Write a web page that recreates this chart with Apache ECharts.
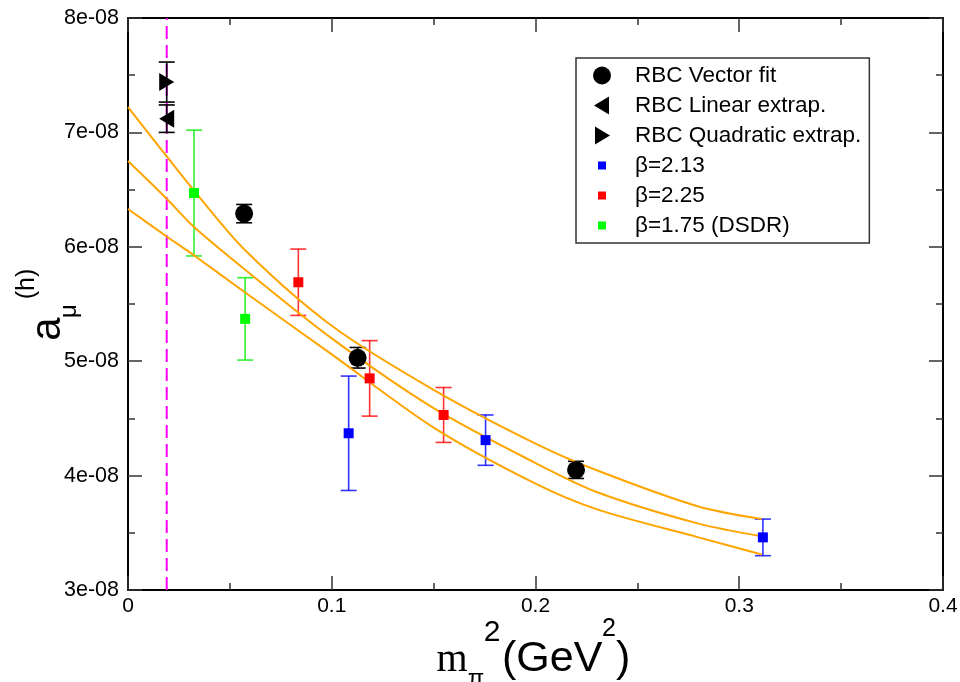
<!DOCTYPE html>
<html><head><meta charset="utf-8">
<script src="https://cdn.jsdelivr.net/npm/echarts@6/dist/echarts.min.js"></script>
<style>html,body{margin:0;padding:0;background:#fff}#c{width:960px;height:682px}</style>
</head><body><div id="c"></div>
<script>
// ---- data ----
const xTickLabels = ['0', '0.1', '0.2', '0.3', '0.4'];
const yTickLabels = ['3e-08', '4e-08', '5e-08', '6e-08', '7e-08', '8e-08'];
const xMin = 0, xMax = 0.4, xStep = 0.1;
const yMin = 3e-8, yMax = 8e-8, yStep = 1e-8;

const physMpi2 = 0.019;

const rbcVectorX = [0.057, 0.1127, 0.2199];
const rbcVectorY = [6.29e-8, 5.03e-8, 4.05e-8];
const rbcVectorErr = [0.08e-8, 0.09e-8, 0.075e-8];

const rbcLinearX = [0.019];
const rbcLinearY = [7.12e-8];
const rbcLinearErr = [0.12e-8];

const rbcQuadX = [0.019];
const rbcQuadY = [7.44e-8];
const rbcQuadErr = [0.175e-8];

const beta213X = [0.1083, 0.1755, 0.3116];
const beta213Y = [4.37e-8, 4.31e-8, 3.46e-8];
const beta213Err = [0.50e-8, 0.22e-8, 0.16e-8];

const beta225X = [0.0836, 0.1186, 0.1549];
const beta225Y = [5.69e-8, 4.85e-8, 4.53e-8];
const beta225Err = [0.29e-8, 0.33e-8, 0.24e-8];

const beta175X = [0.0324, 0.0575];
const beta175Y = [6.47e-8, 5.37e-8];
const beta175Err = [0.55e-8, 0.36e-8];

const fitX = [0, 0.019, 0.032, 0.0575, 0.1, 0.15, 0.2, 0.231, 0.28, 0.311];
const fitUpper = [7.22e-8, 6.79e-8, 6.50e-8, 5.97e-8, 5.31e-8, 4.75e-8, 4.28e-8, 4.04e-8, 3.73e-8, 3.62e-8];
const fitMid   = [6.75e-8, 6.42e-8, 6.18e-8, 5.80e-8, 5.20e-8, 4.59e-8, 4.11e-8, 3.85e-8, 3.58e-8, 3.47e-8];
const fitLower = [6.33e-8, 6.09e-8, 5.93e-8, 5.60e-8, 5.06e-8, 4.42e-8, 3.93e-8, 3.70e-8, 3.46e-8, 3.31e-8];

// ---- helpers ----
const FONT = "'Liberation Sans', Arial, Helvetica, sans-serif";
const pts = (xs, ys) => xs.map((x, i) => [x, ys[i]]);

function errSeries(name, xs, ys, es, color, opacity) {
  return {
    type: 'custom', name: name, silent: true, z: 2,
    data: xs.map((x, i) => [x, ys[i], es[i]]),
    encode: { x: 0, y: 1 },
    renderItem: function (params, api) {
      const x = api.value(0), y = api.value(1), e = api.value(2);
      const t = api.coord([x, y + e]), b = api.coord([x, y - e]);
      const hw = 8;
      const st = { stroke: color, lineWidth: 1.6, opacity: opacity };
      return { type: 'group', children: [
        { type: 'line', shape: { x1: t[0], y1: t[1], x2: b[0], y2: b[1] }, style: st },
        { type: 'line', shape: { x1: t[0] - hw, y1: t[1], x2: t[0] + hw, y2: t[1] }, style: st },
        { type: 'line', shape: { x1: b[0] - hw, y1: b[1], x2: b[0] + hw, y2: b[1] }, style: st }
      ] };
    }
  };
}
function fitLine(name, ys) {
  return { type: 'line', name: name, data: pts(fitX, ys), showSymbol: false, smooth: 0.3,
    silent: true, z: 3, lineStyle: { color: '#ffa500', width: 2 }, itemStyle: { color: '#ffa500' } };
}

const axisCommon = {
  type: 'value',
  axisLine: { show: true, onZero: false, lineStyle: { color: '#000', width: 2 } },
  axisTick: { show: true, inside: true, length: 14, lineStyle: { color: '#333', width: 1.5 } },
  minorTick: { show: true, splitNumber: 2, length: 7, lineStyle: { color: '#333', width: 1.5 } },
  splitLine: { show: false },
  minorSplitLine: { show: false }
};

const SQ = 'path://M0,0 M18,18 M5,5 L13,5 L13,13 L5,13 Z';

const chart = echarts.init(document.getElementById('c'), null, { renderer: 'canvas' });
chart.setOption({
  animation: false,
  backgroundColor: '#fff',
  grid: { left: 128, right: 17, top: 18, bottom: 92, outerBoundsMode: 'none' },
  xAxis: [
    Object.assign({}, axisCommon, {
      position: 'bottom', min: xMin, max: xMax, interval: xStep,
      axisLabel: { show: true, margin: 6, color: '#000', fontSize: 21, fontFamily: FONT,
        formatter: v => xTickLabels[Math.round((v - xMin) / xStep)] }
    }),
    Object.assign({}, axisCommon, {
      position: 'top', min: xMin, max: xMax, interval: xStep, axisLabel: { show: false }
    })
  ],
  yAxis: [
    Object.assign({}, axisCommon, {
      position: 'left', min: yMin, max: yMax, interval: yStep,
      axisLabel: { show: true, margin: 9, color: '#000', fontSize: 21.5, fontFamily: FONT,
        formatter: v => yTickLabels[Math.round((v - yMin) / yStep)] }
    }),
    Object.assign({}, axisCommon, {
      position: 'right', min: yMin, max: yMax, interval: yStep, axisLabel: { show: false }
    })
  ],
  legend: {
    left: 576, top: 58, orient: 'vertical',
    padding: [6, 8, 6, 17],
    itemWidth: 18, itemHeight: 18, itemGap: 7,
    borderColor: '#333', borderWidth: 1.5, backgroundColor: '#fff',
    selectedMode: false,
    textStyle: { fontSize: 22.5, fontFamily: FONT, color: '#000', lineHeight: 18, padding: [0, 0, 0, 19] },
    data: [
      { name: 'RBC Vector fit', icon: 'circle' },
      { name: 'RBC Linear extrap.', icon: 'path://M0,0 M18,18 M16,0 L1,9 L16,18 Z' },
      { name: 'RBC Quadratic extrap.', icon: 'path://M0,0 M18,18 M2,0 L17,9 L2,18 Z' },
      { name: 'β=2.13', icon: SQ },
      { name: 'β=2.25', icon: SQ },
      { name: 'β=1.75 (DSDR)', icon: SQ }
    ]
  },
  series: [
    { type: 'line', name: 'physical pion mass', data: [[physMpi2, yMin], [physMpi2, yMax]],
      showSymbol: false, silent: true, z: 1,
      lineStyle: { color: '#ff00ff', width: 2, type: [13, 6] }, itemStyle: { color: '#ff00ff' } },
    fitLine('fit upper', fitUpper),
    fitLine('fit central', fitMid),
    fitLine('fit lower', fitLower),
    errSeries('err vector', rbcVectorX, rbcVectorY, rbcVectorErr, '#000', 1),
    errSeries('err linear', rbcLinearX, rbcLinearY, rbcLinearErr, '#000', 1),
    errSeries('err quad', rbcQuadX, rbcQuadY, rbcQuadErr, '#000', 1),
    errSeries('err 213', beta213X, beta213Y, beta213Err, '#0000ff', 0.8),
    errSeries('err 225', beta225X, beta225Y, beta225Err, '#ff0000', 0.8),
    errSeries('err 175', beta175X, beta175Y, beta175Err, '#00ee00', 0.8),
    { type: 'scatter', name: 'RBC Vector fit', data: pts(rbcVectorX, rbcVectorY), z: 5,
      symbol: 'circle', symbolSize: 18, itemStyle: { color: '#000', opacity: 1 } },
    { type: 'scatter', name: 'RBC Linear extrap.', data: pts(rbcLinearX, rbcLinearY), z: 5,
      symbol: 'path://M1,0 L0,0.5 L1,1 Z', symbolSize: [15, 18], itemStyle: { color: '#000', opacity: 1 } },
    { type: 'scatter', name: 'RBC Quadratic extrap.', data: pts(rbcQuadX, rbcQuadY), z: 5,
      symbol: 'path://M0,0 L1,0.5 L0,1 Z', symbolSize: [15, 18], itemStyle: { color: '#000', opacity: 1 } },
    { type: 'scatter', name: 'β=2.13', data: pts(beta213X, beta213Y), z: 5,
      symbol: 'rect', symbolSize: 10, itemStyle: { color: '#0000ff', opacity: 1 } },
    { type: 'scatter', name: 'β=2.25', data: pts(beta225X, beta225Y), z: 5,
      symbol: 'rect', symbolSize: 10, itemStyle: { color: '#ff0000', opacity: 1 } },
    { type: 'scatter', name: 'β=1.75 (DSDR)', data: pts(beta175X, beta175Y), z: 5,
      symbol: 'rect', symbolSize: 10, itemStyle: { color: '#00ff00', opacity: 1 } }
  ],
  graphic: [
    // y-axis title  a_mu^(h)
    { type: 'text', x: 48, y: 329, rotation: Math.PI / 2,
      style: { text: 'a', font: "42px " + FONT, fill: '#000', align: 'center', verticalAlign: 'middle' } },
    { type: 'text', x: 69, y: 311, rotation: Math.PI / 2,
      style: { text: 'μ', font: "24px " + FONT, fill: '#000', align: 'center', verticalAlign: 'middle' } },
    { type: 'text', x: 27, y: 284, rotation: Math.PI / 2,
      style: { text: '(h)', font: "25px " + FONT, fill: '#000', align: 'center', verticalAlign: 'middle' } },
    // x-axis title  m_pi^2 (GeV^2)
    { type: 'text', x: 452, y: 660,
      style: { text: 'm', font: "40px 'Liberation Serif', 'Times New Roman', serif", fill: '#000', align: 'center', verticalAlign: 'middle' } },
    { type: 'text', x: 476, y: 679,
      style: { text: 'π', font: "24px " + FONT, fill: '#000', align: 'center', verticalAlign: 'middle' } },
    { type: 'text', x: 492, y: 633,
      style: { text: '2', font: "30px " + FONT, fill: '#000', align: 'center', verticalAlign: 'middle' } },
    { type: 'text', x: 502, y: 659,
      style: { text: '(GeV', font: "43px " + FONT, fill: '#000', align: 'left', verticalAlign: 'middle' } },
    { type: 'text', x: 602, y: 629,
      style: { text: '2', font: "25px " + FONT, fill: '#000', align: 'left', verticalAlign: 'middle' } },
    { type: 'text', x: 616, y: 659,
      style: { text: ')', font: "43px " + FONT, fill: '#000', align: 'left', verticalAlign: 'middle' } }
  ]
});
</script>
</body></html>
